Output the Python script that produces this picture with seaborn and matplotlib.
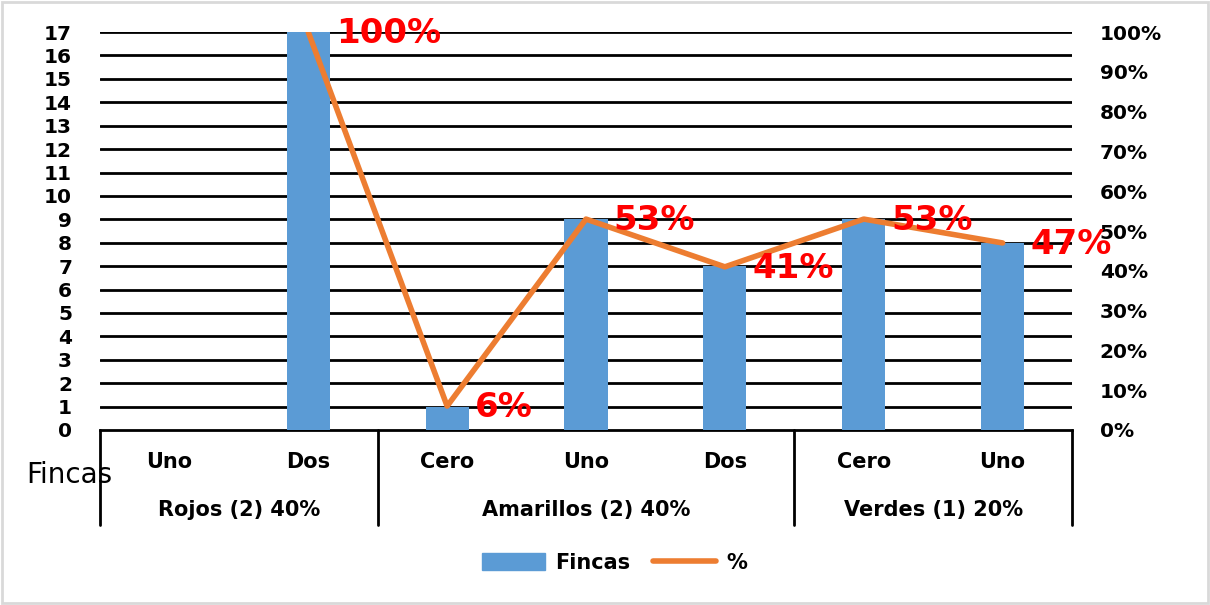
import numpy as np
import pandas as pd
import matplotlib
matplotlib.use("Agg")
import matplotlib.pyplot as plt
import matplotlib.transforms as mtransforms
from matplotlib.patches import Rectangle, Patch
from matplotlib.lines import Line2D
import seaborn as sns

# Data
sub_labels = ["Uno", "Dos", "Cero", "Uno", "Dos", "Cero", "Uno"]
groups = ["Rojos (2) 40%", "Amarillos (2) 40%", "Verdes (1) 20%"]
group_sizes = [2, 3, 2]
fincas = [0, 17, 1, 9, 7, 9, 8]
pct = [np.nan, 1.00, 0.06, 0.53, 0.41, 0.53, 0.47]
pct_labels = ["", "100%", "6%", "53%", "41%", "53%", "47%"]

sns.set_style("white")
plt.rcParams["font.family"] = ["DejaVu Sans"]
plt.rcParams["text.color"] = "black"
plt.rcParams["xtick.color"] = "black"
plt.rcParams["ytick.color"] = "black"

df = pd.DataFrame({"pos": range(len(sub_labels)), "Fincas": fincas, "pct": pct})

fig = plt.figure(figsize=(12.1, 6.05), dpi=100)
ax = fig.add_axes([0.0826, 0.2893, 0.8034, 0.6577])

sns.barplot(data=df, x="pos", y="Fincas", color="#5B9BD5", width=0.31,
            saturation=1, linewidth=0, ax=ax, zorder=3)
ax.set_xlim(-0.5, len(sub_labels) - 0.5)
ax.set_ylim(0, 17)
ax.set_yticks(range(0, 18))
ax.set_xticks([])
ax.set_xlabel("")
ax.set_ylabel("")
for y in range(1, 18):
    ax.axhline(y, color="black", lw=2, zorder=1)
for s in ["top", "left", "right"]:
    ax.spines[s].set_visible(False)
ax.spines["bottom"].set_linewidth(2)
ax.spines["bottom"].set_color("black")
ax.tick_params(axis="y", length=0, pad=20, labelsize=14.5)
for t in ax.get_yticklabels():
    t.set_fontweight("bold")

ax2 = ax.twinx()
sns.lineplot(data=df, x="pos", y="pct", color="#ED7D31", lw=4, ax=ax2,
             zorder=4)
ax2.set_ylim(0, 1)
ax2.set_yticks(np.arange(0, 1.01, 0.1))
ax2.set_yticklabels([f"{v:.0%}" for v in np.arange(0, 1.01, 0.1)])
ax2.set_ylabel("")
ax2.set_xlabel("")
ax2.tick_params(axis="y", length=0, pad=20, labelsize=14.5)
for t in ax2.get_yticklabels():
    t.set_fontweight("bold")
for s in ax2.spines.values():
    s.set_visible(False)

for x, v, lab in zip(df["pos"], pct, pct_labels):
    if lab:
        ax2.annotate(lab, (x, v), xytext=(20, -1), textcoords="offset points",
                     ha="left", va="center", color="#FF0000",
                     fontsize=24.5, fontweight="bold", zorder=6)

# multi-level category axis
trans = mtransforms.blended_transform_factory(ax.transData, ax.transAxes)
for i, lab in enumerate(sub_labels):
    ax.text(i, -0.08, lab, transform=trans, ha="center", va="center",
            fontsize=15, fontweight="bold")
start = 0
edges = [-0.5]
for g, n in zip(groups, group_sizes):
    ax.text(start + (n - 1) / 2, -0.2, g, transform=trans, ha="center",
            va="center", fontsize=15, fontweight="bold")
    start += n
    edges.append(start - 0.5)
for e in edges:
    ax.plot([e, e], [0, -0.24], transform=trans, color="black", lw=2,
            clip_on=False)

fig.text(0.022, 0.215, "Fincas", fontsize=20, va="center", ha="left")

handles = [Patch(color="#5B9BD5", label="Fincas"),
           Line2D([0], [0], color="#ED7D31", lw=4, solid_capstyle="round",
                  label="%")]
fig.legend(handles=handles, loc="center", bbox_to_anchor=(0.508, 0.07),
           ncol=2, frameon=False, handlelength=3, handleheight=0.9,
           handletextpad=0.5, columnspacing=1.1,
           prop={"weight": "bold", "size": 15})

fig.add_artist(Rectangle((0.002, 0.003), 0.996, 0.994, transform=fig.transFigure,
                         fill=False, edgecolor="#D9D9D9", lw=2))

fig.savefig("out.png", dpi=100)
